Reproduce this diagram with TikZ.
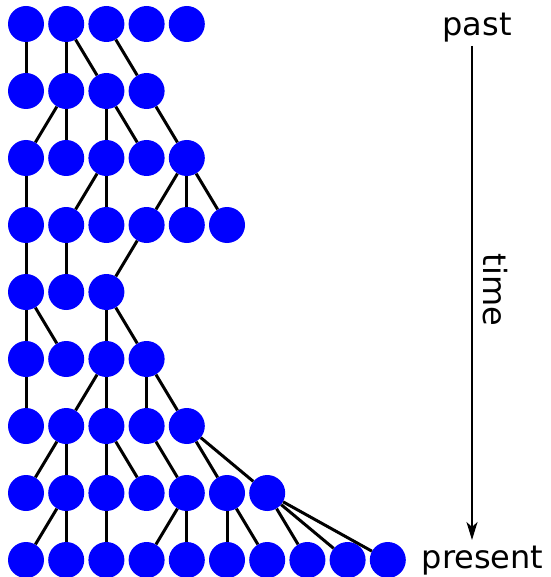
\documentclass[tikz,border=0pt]{standalone}
\usepackage{fontspec}
\setmainfont{DejaVu Sans}
\usetikzlibrary{arrows.meta}
\begin{document}
\begin{tikzpicture}[x=1pt,y=-1pt,
  dot/.style={circle,fill={rgb,255:red,0;green,0;blue,255},minimum size=36pt,inner sep=0pt},
  link/.style={line width=3pt,black},
  lbl/.style={font=\fontsize{32}{38}\selectfont,inner sep=0pt}]
\useasboundingbox (0,0) rectangle (550,577);
% nodes
\foreach \r/\n in {0/5,1/4,2/5,3/6,4/3,5/4,6/5,7/7,8/10}{
  \foreach \i in {1,...,\n}{
    \node[dot] (n-\r-\i) at ({26+40.2*(\i-1)},{24+67*\r}) {};
  }
}
% connectors: row/child/parent (parent in row-1)
\foreach \r/\c/\p in {
  1/1/1,1/2/2,1/3/2,1/4/3,
  2/1/2,2/2/2,2/3/3,2/4/3,2/5/4,
  3/1/1,3/2/3,3/3/3,3/4/5,3/5/5,3/6/5,
  4/1/1,4/2/2,4/3/4,
  5/1/1,5/2/1,5/3/3,5/4/3,
  6/1/1,6/2/3,6/3/3,6/4/4,6/5/4,
  7/1/2,7/2/2,7/3/3,7/4/3,7/5/4,7/6/5,7/7/5,
  8/1/2,8/2/2,8/3/3,8/4/5,8/5/5,8/6/6,8/7/6,8/8/7,8/9/7,8/10/7}{
  \pgfmathtruncatemacro{\q}{\r-1}
  \draw[link] (n-\r-\c) -- (n-\q-\p);
}
% time axis
\node[lbl,anchor=base] (past) at (477,36) {past};
\node[lbl,anchor=base west] (present) at (421.5,568) {present};
\coordinate (tstart) at (472,46);
\coordinate (tend) at (472,540);
\draw[line width=2pt,-{Stealth[length=18pt,width=11pt,inset=5pt]}] (tstart) -- (tend);
\node[lbl,rotate=-90] (time) at (495,290) {time};
\end{tikzpicture}
\end{document}
